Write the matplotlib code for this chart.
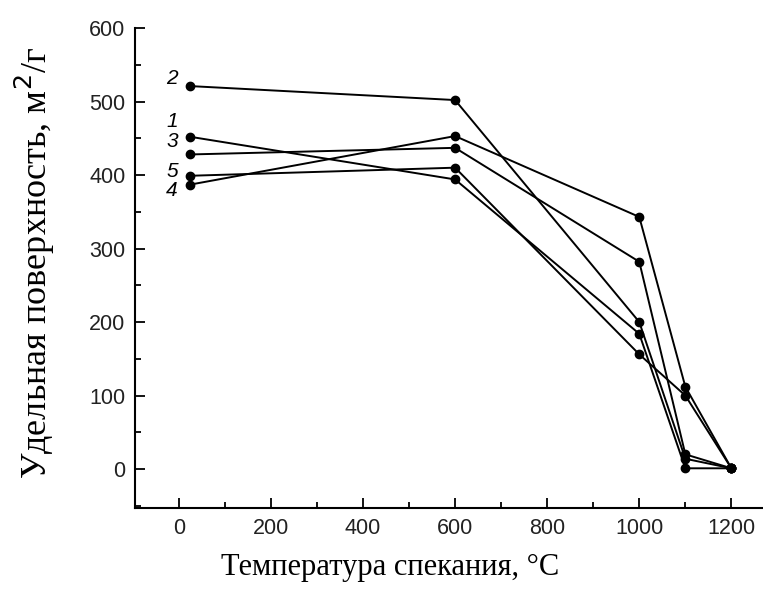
import matplotlib
matplotlib.use('Agg')
import matplotlib.pyplot as plt
from matplotlib.ticker import MultipleLocator

# температура спекания, °C
temps = [25, 600, 1000, 1100, 1200]

# удельная поверхность образцов, м2/г
s1 = [452, 394, 184, 1, 1]
s2 = [521, 502, 200, 14, 1]
s3 = [428, 437, 282, 20, 1]
s4 = [387, 453, 343, 112, 1]
s5 = [399, 410, 156, 100, 1]

series = {'1': s1, '2': s2, '3': s3, '4': s4, '5': s5}

# где стоят номера кривых (в координатах графика)
label_pos = {'2': (-15, 532), '1': (-15, 473), '3': (-15, 446),
             '5': (-15, 405), '4': (-15, 379)}

fig = plt.figure(figsize=(7.63, 5.9), dpi=100)
ax = fig.add_axes([0.177, 0.139, 0.822, 0.8135])

for name, vals in series.items():
    ax.plot(temps, vals, color='black', lw=1.4, marker='o', ms=6)
    ax.text(*label_pos[name], name, ha='center', va='center',
            fontsize=15, style='italic', family='Liberation Sans')

ax.set_xlim(-95, 1267)
ax.set_ylim(-53, 600)
ax.xaxis.set_major_locator(MultipleLocator(200))
ax.xaxis.set_minor_locator(MultipleLocator(100))
ax.yaxis.set_major_locator(MultipleLocator(100))
ax.yaxis.set_minor_locator(MultipleLocator(50))

for side in ('top', 'right'):
    ax.spines[side].set_visible(False)
for side in ('left', 'bottom'):
    ax.spines[side].set_linewidth(1.5)

ax.tick_params(which='both', direction='in', width=1.3, labelsize=15.5, pad=7)
ax.tick_params(which='major', length=7)
ax.tick_params(which='minor', length=4)
for lbl in ax.get_xticklabels() + ax.get_yticklabels():
    lbl.set_family('Liberation Sans')
    lbl.set_color('#222222')

ax.set_xlabel('Температура спекания, °С', family='Liberation Serif', fontsize=22)
ax.set_ylabel('Удельная поверхность, м$^2$/г', family='Liberation Serif', fontsize=26)
ax.xaxis.set_label_coords(0.407, -0.093)
ax.yaxis.set_label_coords(-0.125, 0.51)

fig.savefig('out.png', dpi=100)
